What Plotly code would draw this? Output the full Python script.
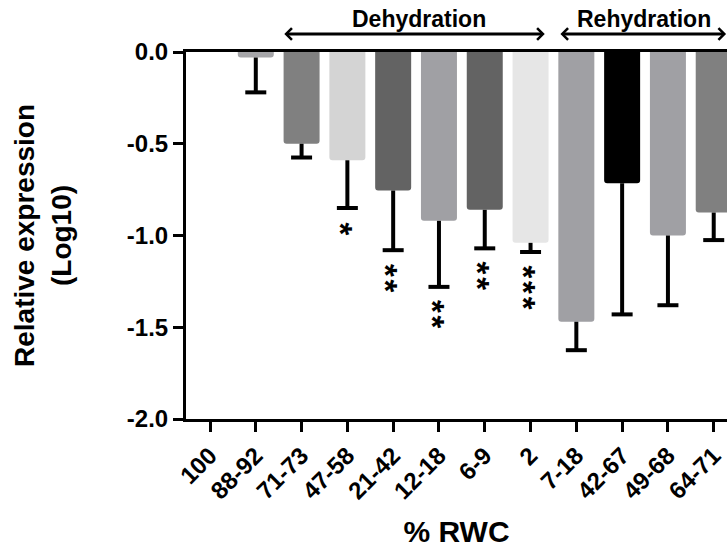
import plotly.graph_objects as go

categories = ["100", "88-92", "71-73", "47-58", "21-42", "12-18", "6-9", "2",
              "7-18", "42-67", "49-68", "64-71"]
values = [0.0, -0.03, -0.50, -0.59, -0.755, -0.92, -0.86, -1.04, -1.47, -0.715, -1.00, -0.875]
errors = [0.0, 0.19, 0.075, 0.26, 0.325, 0.36, 0.21, 0.05, 0.155, 0.715, 0.38, 0.15]
stars = [0, 0, 0, 1, 2, 2, 2, 3, 0, 0, 0, 0]
colors = ["#a5a5a8", "#a5a5a8", "#808080", "#d4d4d4", "#636363", "#a0a0a4", "#636363",
          "#e6e6e6", "#a0a0a4", "#000000", "#a0a0a4", "#808080"]
ytick_vals = [0.0, -0.5, -1.0, -1.5, -2.0]
ytick_text = ["0.0", "-0.5", "-1.0", "-1.5", "-2.0"]

FONT = "Liberation Sans, Arial, sans-serif"

x_idx = list(range(len(categories)))
err_end = [v - e for v, e in zip(values, errors)]

fig = go.Figure()
fig.add_trace(go.Bar(
    x=x_idx, y=values,
    marker=dict(color=colors, line=dict(width=0), cornerradius=3),
    error_y=dict(type="data", symmetric=False,
                 array=[0] * len(values), arrayminus=errors,
                 color="black", thickness=4, width=0),
    width=0.786,
    showlegend=False, hoverinfo="skip",
))
# error-bar caps
fig.add_trace(go.Scatter(
    x=[i for i, e in zip(x_idx, errors) if e > 0],
    y=[ee for ee, e in zip(err_end, errors) if e > 0],
    mode="markers",
    marker=dict(symbol="line-ew", size=15, line=dict(width=4, color="black")),
    showlegend=False, hoverinfo="skip",
))

annotations = []
STAR_SIZE = 33
step = 14  # px between stacked stars
for i, n in enumerate(stars):
    if n == 0:
        continue
    annotations.append(dict(
        x=i, y=err_end[i], xref="x", yref="y",
        text="\u200a".join(["*"] * n), showarrow=False, textangle=90,
        yanchor="middle", xanchor="center",
        yshift=-(21 + (n - 1) * step / 2), xshift=-7,
        font=dict(family=FONT, size=STAR_SIZE, color="black", weight="bold"),
    ))

# group arrows
for x0, x1 in [(1.59, 7.31), (7.62, 11.27)]:
    annotations.append(dict(
        x=x1, y=1.049, xref="x", yref="paper",
        ax=x0, ay=0, axref="x", ayref="pixel",
        text="", showarrow=True, arrowside="end+start",
        arrowhead=4, startarrowhead=4, arrowsize=0.75, startarrowsize=0.75,
        arrowwidth=3, arrowcolor="black", standoff=0, startstandoff=0,
    ))
for xc, label in [(4.56, "Dehydration"), (9.48, "Rehydration")]:
    annotations.append(dict(
        x=xc, y=1.09, xref="x", yref="paper", text=label, showarrow=False,
        xanchor="center", yanchor="middle",
        font=dict(family=FONT, size=23, color="black", weight="bold"),
    ))

fig.update_layout(
    width=727, height=550,
    margin=dict(l=186, r=0, t=52, b=131),
    paper_bgcolor="white", plot_bgcolor="white",
    font=dict(family=FONT, color="black"),
    annotations=annotations,
    xaxis=dict(
        range=[-0.524, 11.29],
        tickmode="array", tickvals=x_idx, ticktext=categories,
        tickangle=-45, ticks="outside", ticklen=10, tickwidth=3, tickcolor="black",
        showline=True, linewidth=3, linecolor="black", mirror=True,
        showgrid=False, zeroline=False,
        tickfont=dict(family=FONT, size=24, color="black", weight="bold"),
        title=dict(text="% RWC", standoff=18,
                   font=dict(family=FONT, size=30, color="black", weight="bold")),
    ),
    yaxis=dict(
        range=[-2, 0],
        tickmode="array", tickvals=ytick_vals, ticktext=ytick_text,
        ticks="outside", ticklen=10, tickwidth=3, tickcolor="black",
        showline=True, linewidth=3, linecolor="black",
        showgrid=False, zeroline=False,
        tickfont=dict(family=FONT, size=24, color="black", weight="bold"),
        title=dict(text="Relative expression<br>(Log10)", standoff=48,
                   font=dict(family=FONT, size=28, color="black", weight="bold")),
    ),
)

fig.write_html("out.html")
